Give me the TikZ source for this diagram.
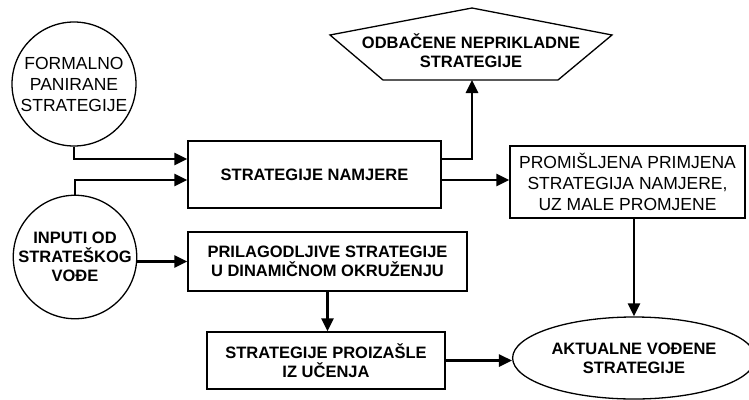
\documentclass[tikz,border=0pt]{standalone}
\usepackage{fontspec}
\setmainfont{Liberation Sans}
\usetikzlibrary{arrows.meta,shapes.geometric}

\tikzset{
  okvir/.style={draw, line width=1.3pt, align=center, inner sep=2pt},
  krug/.style={draw, circle, line width=1.3pt, align=center, inner sep=0pt},
  strelica/.style={line width=2.6pt, -{Triangle[length=13pt,width=12pt]}},
  debelo/.style={font=\fontsize{16.5}{19}\selectfont\bfseries},
  tanko/.style={font=\fontsize{17.5}{21}\selectfont}
}

\begin{document}
\begin{tikzpicture}[x=1pt,y=-1pt]
    \useasboundingbox (0,0) rectangle (749,399);

    % 圆形输入
    \node[krug, tanko, minimum size=124pt] (formalno) at (74,84) {FORMALNO\\PANIRANE\\STRATEGIJE};
    \node[krug, debelo, minimum size=122pt] (inputi) at (75,257) {INPUTI OD\\STRATEŠKOG\\VOĐE};

    % 方框
    \node[okvir, debelo, minimum width=253pt, minimum height=67pt] (namjera) at (314.5,174.5) {STRATEGIJE NAMJERE};
    \node[okvir, tanko, minimum width=235pt, minimum height=72pt] (promisljena) at (627.5,182) {PROMIŠLJENA PRIMJENA\\STRATEGIJA NAMJERE,\\UZ MALE PROMJENE};
    \node[okvir, debelo, minimum width=279pt, minimum height=59pt] (prilagodljive) at (327.5,261.5) {PRILAGODLJIVE STRATEGIJE\\U DINAMIČNOM OKRUŽENJU};
    \node[okvir, debelo, minimum width=238pt, minimum height=57pt] (ucenje) at (326,360.5) {STRATEGIJE PROIZAŠLE\\IZ UČENJA};
    \node[draw, ellipse, line width=1.3pt, debelo, align=center, minimum width=216pt, minimum height=82pt] (aktualne) at (634,358) {AKTUALNE VOĐENE\\STRATEGIJE};

    % 五边形
    \node[debelo, align=center] (odbacene) at (471,51) {ODBAČENE NEPRIKLADNE\\STRATEGIJE};
    \coordinate (odbacene-dno) at (472,80);
    \draw[line width=1.3pt] (472,8) -- (612,35) -- (558,80) -- (383,80) -- (330,35) -- cycle;

    % 箭头
    \draw[strelica] (formalno.south) |- ([yshift=15.5pt]namjera.west);
    \draw[strelica] (inputi.north) |- ([yshift=-5.5pt]namjera.west);
    \draw[strelica] ([yshift=15.5pt]namjera.east) -| (odbacene-dno);
    \draw[strelica] ([yshift=-5.5pt]namjera.east) -- ([yshift=-5.5pt]namjera.east -| promisljena.west);
    \draw[strelica] (inputi.east |- prilagodljive.west) -- (prilagodljive.west);
    \draw[strelica] (prilagodljive.south) -- (prilagodljive.south |- ucenje.north);
    \draw[strelica] (promisljena.south -| aktualne.north) -- (aktualne.north);
    \draw[strelica] (ucenje.east) -- (ucenje.east -| aktualne.west);
\end{tikzpicture}
\end{document}
